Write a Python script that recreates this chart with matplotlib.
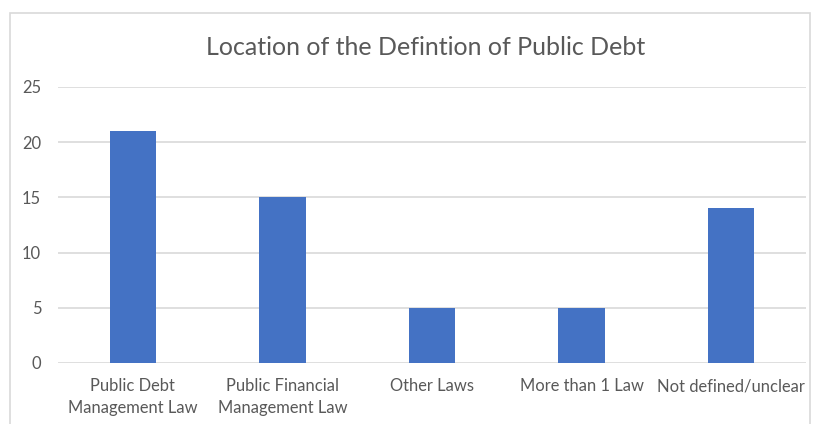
import numpy as np
import matplotlib.pyplot as plt
from matplotlib.patches import Rectangle

categories = ['Public Debt\nManagement Law', 'Public Financial\nManagement Law',
              'Other Laws', 'More than 1 Law', 'Not defined/unclear']
values = [21, 15, 5, 5, 14]
title = 'Location of the Defintion of Public Debt'

plt.rcParams['font.family'] = ['Lato', 'DejaVu Sans']
text_color = '#595959'
grid_color = '#d9d9d9'
bar_color = '#4472c4'

fig = plt.figure(figsize=(8.13, 4.24), dpi=100)
ax = fig.add_axes([0.0713, 0.1439, 0.920, 0.651])

x = np.arange(len(categories))
ax.bar(x, values, width=0.31, color=bar_color, zorder=3)

ax.set_xlim(-0.5, len(categories) - 0.5)
ax.set_ylim(0, 25)
ax.set_yticks(np.arange(0, 26, 5))
ax.set_xticks(x)
ax.set_xticklabels(categories, fontsize=11.9, color=text_color, linespacing=1.45)
ax.tick_params(axis='y', labelsize=11.9, labelcolor=text_color, length=0, pad=12)
ax.tick_params(axis='x', length=0, pad=11)
ax.grid(axis='y', color=grid_color, linewidth=1.2, zorder=0)
for s in ax.spines.values():
    s.set_visible(False)

fig.text(0.523, 0.888, title, ha='center', va='center', fontsize=18, color=text_color)

# chart frame
fig.patches.append(Rectangle((10 / 813, -0.1), 800 / 813, (424 - 13) / 424 + 0.1,
                             transform=fig.transFigure, fill=False,
                             edgecolor=grid_color, linewidth=1.2))

fig.savefig('out.png', dpi=100)
